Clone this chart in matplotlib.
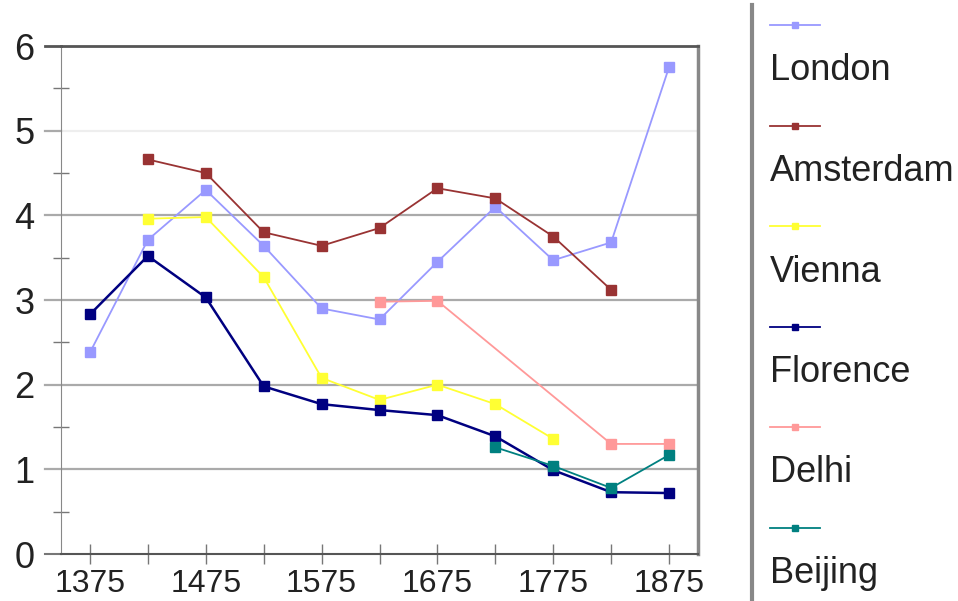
import matplotlib.pyplot as plt
from matplotlib.lines import Line2D

plt.rcParams["font.family"] = ["Liberation Sans", "DejaVu Sans"]

# --- data ---
years = [1375, 1425, 1475, 1525, 1575, 1625, 1675, 1725, 1775, 1825, 1875]
london = [2.38, 3.71, 4.30, 3.64, 2.90, 2.77, 3.45, 4.10, 3.47, 3.68, 5.75]
amsterdam = [None, 4.66, 4.50, 3.80, 3.64, 3.85, 4.32, 4.20, 3.75, 3.12, None]
vienna = [None, 3.96, 3.98, 3.27, 2.08, 1.82, 2.00, 1.77, 1.36, None, None]
florence = [2.83, 3.52, 3.03, 1.98, 1.77, 1.70, 1.64, 1.39, 0.99, 0.73, 0.72]
delhi = [None, None, None, None, None, 2.98, 2.99, None, None, 1.30, 1.30]
beijing = [None, None, None, None, None, None, None, 1.26, 1.04, 0.78, 1.17]

cities = ["London", "Amsterdam", "Vienna", "Florence", "Delhi", "Beijing"]
series = [london, amsterdam, vienna, florence, delhi, beijing]
colors = ["#9999ff", "#993333", "#ffff33", "#000080", "#ff9999", "#008080"]
xtick_labels = ["1375", "1475", "1575", "1675", "1775", "1875"]

fig = plt.figure(figsize=(9.58, 6.01), dpi=100)
ax = fig.add_axes([61 / 958, 1 - 554 / 601, (698 - 61) / 958, (554 - 46) / 601])

for name, vals, col in zip(cities, series, colors):
    # Excel-style: skip empty cells but connect the remaining points
    xs = [x for x, v in zip(years, vals) if v is not None]
    ys = [v for v in vals if v is not None]
    lw = 1.8 if name == "Florence" else 1.3
    ax.plot(xs, ys, color=col, lw=lw, marker="s", ms=6.5, mec=col, mfc=col, zorder=3)

ax.set_xlim(1350, 1900)
ax.set_ylim(0, 6)

ax.set_xticks(years)
ax.set_xticklabels([str(y) if str(y) in xtick_labels else "" for y in years])
ax.set_yticks(range(0, 7))
ax.set_yticks([0.5, 1.5, 2.5, 3.5, 4.5, 5.5], minor=True)
ax.tick_params(axis="both", which="both", direction="inout", colors="#777777",
               labelcolor="#222222", length=14, width=1)
ax.tick_params(axis="x", labelsize=23, pad=4)
ax.tick_params(axis="y", which="major", length=0, pad=19, labelsize=26)
ax.tick_params(axis="y", which="minor", length=12)

# horizontal gridlines, the one at 5 is much fainter
for lvl in [1, 2, 3, 4, 5]:
    ax.axhline(lvl, color="#eeeeee" if lvl == 5 else "#aaaaaa", lw=1.6, zorder=1)
    ax.plot([1336, 1350], [lvl, lvl], color="#aaaaaa", lw=1.6, clip_on=False)
ax.plot([1336, 1350], [6, 6], color="#555555", lw=2, clip_on=False)
ax.plot([1336, 1350], [0, 0], color="#777777", lw=1.5, clip_on=False)

ax.spines["top"].set_color("#555555")
ax.spines["top"].set_linewidth(2)
ax.spines["right"].set_color("#888888")
ax.spines["right"].set_linewidth(2.5)
ax.spines["left"].set_color("#888888")
ax.spines["bottom"].set_color("#555555")
ax.spines["bottom"].set_linewidth(1.5)

# legend drawn by hand: handle above label, with a divider line on the left
fig.add_artist(Line2D([752 / 958, 752 / 958], [0, 1 - 5 / 601], color="#888888", lw=3))
for i, (name, col) in enumerate(zip(cities, colors)):
    hy = 1 - (25 + i * 100.5) / 601
    ty = 1 - (71 + i * 100.5) / 601
    fig.add_artist(Line2D([770 / 958, 820 / 958], [hy, hy], color=col, lw=1.3))
    fig.add_artist(Line2D([795 / 958], [hy], color=col, marker="s", ms=5, mec=col, mfc=col))
    fig.text(770 / 958, ty, name, fontsize=26, color="#222222", va="center", ha="left")

fig.savefig("out.png", dpi=100)
